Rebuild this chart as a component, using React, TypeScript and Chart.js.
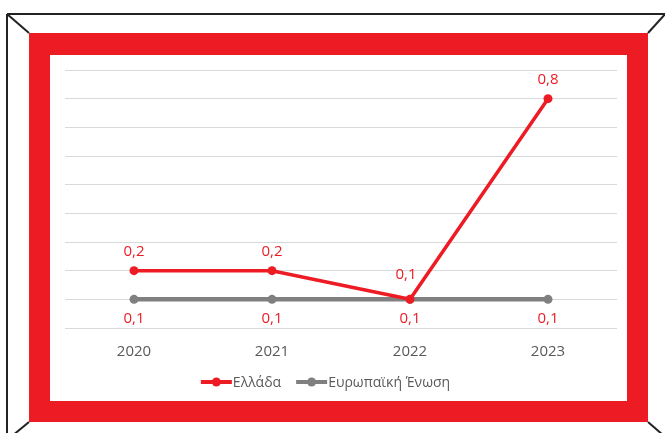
import React, { useEffect, useRef } from "react";
import { Chart, registerables } from "chart.js";

Chart.register(...registerables);

const years = ["2020", "2021", "2022", "2023"];
const greece = [0.2, 0.2, 0.1, 0.8];
const eu = [0.1, 0.1, 0.1, 0.1];
const seriesNames = ["Ελλάδα", "Ευρωπαϊκή Ένωση"];

const RED = "#ED1C24";
const GRAY = "#808080";
const TEXT_GRAY = "#595959";
const FONT = '"Open Sans", "Noto Sans", sans-serif';

const fmt = (v: number) => v.toFixed(1).replace(".", ",");

const valueLabels = {
  id: "valueLabels",
  afterDatasetsDraw(chart: any) {
    const ctx = chart.ctx;
    ctx.save();
    ctx.font = `15px ${FONT}`;
    ctx.fillStyle = RED;
    ctx.textAlign = "center";
    ctx.textBaseline = "middle";
    const metas = chart.data.datasets.map((_: any, i: number) => chart.getDatasetMeta(i));
    chart.data.datasets.forEach((ds: any, i: number) => {
      metas[i].data.forEach((pt: any, j: number) => {
        const v = ds.data[j];
        let dx = 0;
        let dy = i === 0 ? -19 : 19;
        if (i === 0) {
          const other = metas[1].data[j];
          if (other && Math.abs(other.y - pt.y) < 2) {
            dy = -25;
            dx = -4;
          }
        }
        ctx.fillText(fmt(v), pt.x + dx, pt.y + dy);
      });
    });
    ctx.restore();
  },
};

const lineLegend = {
  id: "lineLegend",
  afterDraw(chart: any) {
    const ctx = chart.ctx;
    ctx.save();
    ctx.font = `14px ${FONT}`;
    ctx.textBaseline = "middle";
    ctx.textAlign = "left";
    const sw = 31;
    const gapText = 1;
    const gapItem = 15;
    const items = chart.data.datasets.map((ds: any) => ({
      label: ds.label,
      color: ds.borderColor,
      w: sw + gapText + ctx.measureText(ds.label).width,
    }));
    const total = items.reduce((a: number, it: any) => a + it.w, 0) + gapItem * (items.length - 1);
    let x = chart.width / 2 - total / 2 - 13;
    const y = chart.height - 19;
    items.forEach((it: any) => {
      ctx.strokeStyle = it.color;
      ctx.lineWidth = 4;
      ctx.beginPath();
      ctx.moveTo(x, y);
      ctx.lineTo(x + sw, y);
      ctx.stroke();
      ctx.fillStyle = it.color;
      ctx.beginPath();
      ctx.arc(x + sw / 2, y, 4.5, 0, Math.PI * 2);
      ctx.fill();
      ctx.fillStyle = TEXT_GRAY;
      ctx.fillText(it.label, x + sw + gapText, y + 1);
      x += it.w + gapItem;
    });
    ctx.restore();
  },
};

function LineChart() {
  const ref = useRef<HTMLCanvasElement | null>(null);
  useEffect(() => {
    if (!ref.current) return;
    const chart = new Chart(ref.current, {
      type: "line",
      data: {
        labels: years,
        datasets: [
          {
            label: seriesNames[0],
            data: greece,
            borderColor: RED,
            backgroundColor: RED,
            borderWidth: 3.5,
            pointRadius: 4.5,
            pointBorderWidth: 0,
            pointBackgroundColor: RED,
            tension: 0,
            order: 0,
          },
          {
            label: seriesNames[1],
            data: eu,
            borderColor: GRAY,
            backgroundColor: GRAY,
            borderWidth: 4.5,
            pointRadius: 4.5,
            pointBorderWidth: 0,
            pointBackgroundColor: GRAY,
            tension: 0,
            order: 1,
          },
        ],
      },
      options: {
        responsive: false,
        animation: false,
        devicePixelRatio: 1,
        layout: { padding: { left: 15, right: 10, top: 15, bottom: 25 } },
        plugins: {
          legend: { display: false },
          tooltip: { enabled: false },
        },
        scales: {
          x: {
            offset: true,
            grid: { display: false, drawTicks: false },
            border: { display: false },
            ticks: {
              color: TEXT_GRAY,
              font: { family: FONT, size: 15 },
              padding: 15,
            },
          },
          y: {
            min: 0,
            max: 0.9,
            ticks: { display: false, stepSize: 0.1 },
            grid: { color: "#D9D9D9", lineWidth: 1, drawTicks: false },
            border: { display: false },
          },
        },
      },
      plugins: [valueLabels, lineLegend],
    });
    return () => chart.destroy();
  }, []);
  return <canvas ref={ref} width={577} height={346} style={{ display: "block" }} />;
}

export default function App() {
  return (
    <div style={{ position: "fixed", left: 0, top: 0, width: 665, height: 433, background: "#fff", overflow: "hidden" }}>
      <svg width={665} height={433} style={{ position: "absolute", left: 0, top: 0 }}>
        <rect x={29} y={33} width={619} height={389} fill={RED} />
        <rect x={50} y={55} width={577} height={346} fill="#fff" />
        <g stroke="#222" strokeWidth={2} fill="none">
          <line x1={7} y1={14} x2={670} y2={14} />
          <line x1={7} y1={14} x2={7} y2={440} />
          <line x1={7} y1={14} x2={29} y2={33} />
          <line x1={667} y1={12} x2={648} y2={33} />
          <line x1={29} y1={422} x2={12} y2={436} />
          <line x1={648} y1={422} x2={663} y2={435} />
        </g>
      </svg>
      <div style={{ position: "absolute", left: 50, top: 55 }}>
        <LineChart />
      </div>
    </div>
  );
}
